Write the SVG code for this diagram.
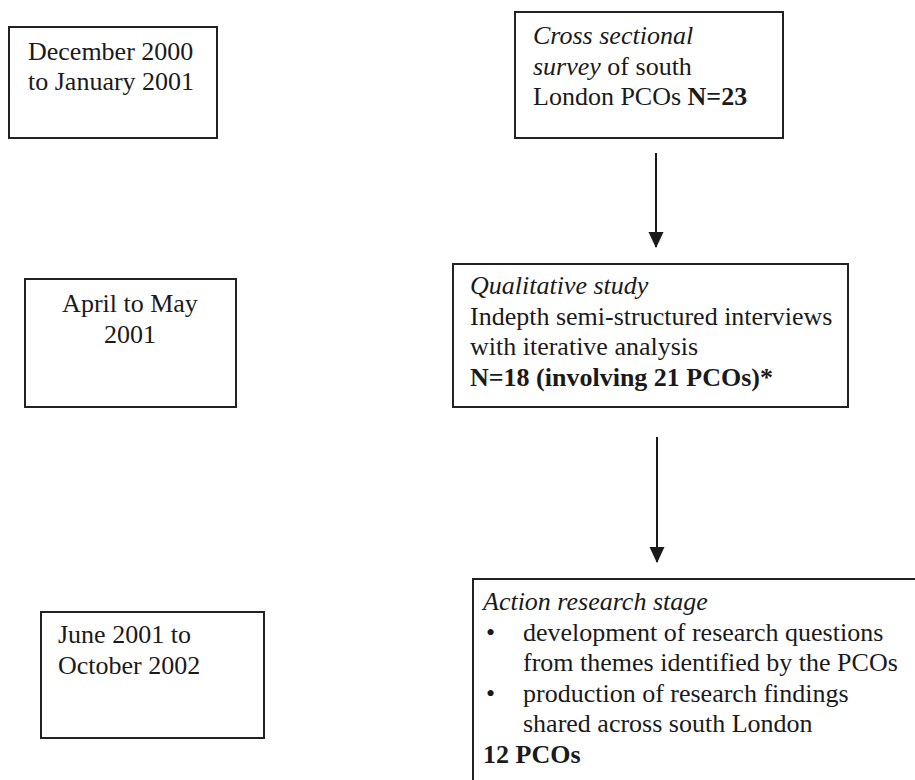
<svg xmlns="http://www.w3.org/2000/svg" width="915" height="780" viewBox="0 0 915 780">
<style>
  .box { fill: #ffffff; stroke: #222222; stroke-width: 2; }
  .t { font-family: "Liberation Serif", "Times New Roman", serif; font-size: 26px; fill: #1a1a1a; }
  .i { font-style: italic; }
  .b { font-weight: bold; }
  .conn { stroke: #1a1a1a; stroke-width: 2; fill: none; }
</style>
<defs>
  <marker id="arrow" markerWidth="16" markerHeight="17" refX="16" refY="8" orient="auto" markerUnits="userSpaceOnUse" viewBox="0 0 17 16">
    <path d="M0,0 L17,8 L0,16 Z" fill="#1a1a1a"/>
  </marker>
</defs>
<rect width="915" height="780" fill="#ffffff"/>

<g id="date-dec2000">
  <rect class="box" x="9" y="27" width="208" height="111"/>
  <text class="t" x="28" y="60">December 2000</text>
  <text class="t" x="28" y="90">to January 2001</text>
</g>

<g id="survey">
  <rect class="box" x="515" y="12" width="268" height="126"/>
  <text class="t" x="533" y="44"><tspan class="i">Cross sectional</tspan></text>
  <text class="t" x="533" y="74.5"><tspan class="i">survey</tspan> of south</text>
  <text class="t" x="533" y="105">London PCOs <tspan class="b">N=23</tspan></text>
</g>

<g id="date-apr2001">
  <rect class="box" x="25" y="279" width="211" height="128"/>
  <text class="t" x="130" y="312" text-anchor="middle">April to May</text>
  <text class="t" x="130" y="343" text-anchor="middle">2001</text>
</g>

<g id="qualitative">
  <rect class="box" x="453" y="264" width="395" height="143"/>
  <text class="t i" x="470" y="294">Qualitative study</text>
  <text class="t" x="470" y="324.5">Indepth semi-structured interviews</text>
  <text class="t" x="470" y="355">with iterative analysis</text>
  <text class="t b" x="470" y="385.5">N=18 (involving 21 PCOs)*</text>
</g>

<g id="date-jun2001">
  <rect class="box" x="41" y="612" width="223" height="126"/>
  <text class="t" x="58" y="643">June 2001 to</text>
  <text class="t" x="58" y="674">October 2002</text>
</g>

<g id="action">
  <rect class="box" x="473" y="579" width="460" height="220"/>
  <text class="t i" x="483" y="610">Action research stage</text>
  <text class="t" x="486" y="641">•</text>
  <text class="t" x="523" y="641">development of research questions</text>
  <text class="t" x="523" y="671">from themes identified by the PCOs</text>
  <text class="t" x="486" y="702">•</text>
  <text class="t" x="523" y="702">production of research findings</text>
  <text class="t" x="523" y="732">shared across south London</text>
  <text class="t b" x="483" y="763">12 PCOs</text>
</g>

<g id="connectors">
  <line class="conn" x1="656" y1="153" x2="656" y2="247" marker-end="url(#arrow)"/>
  <line class="conn" x1="657" y1="437" x2="657" y2="562" marker-end="url(#arrow)"/>
</g>
</svg>
